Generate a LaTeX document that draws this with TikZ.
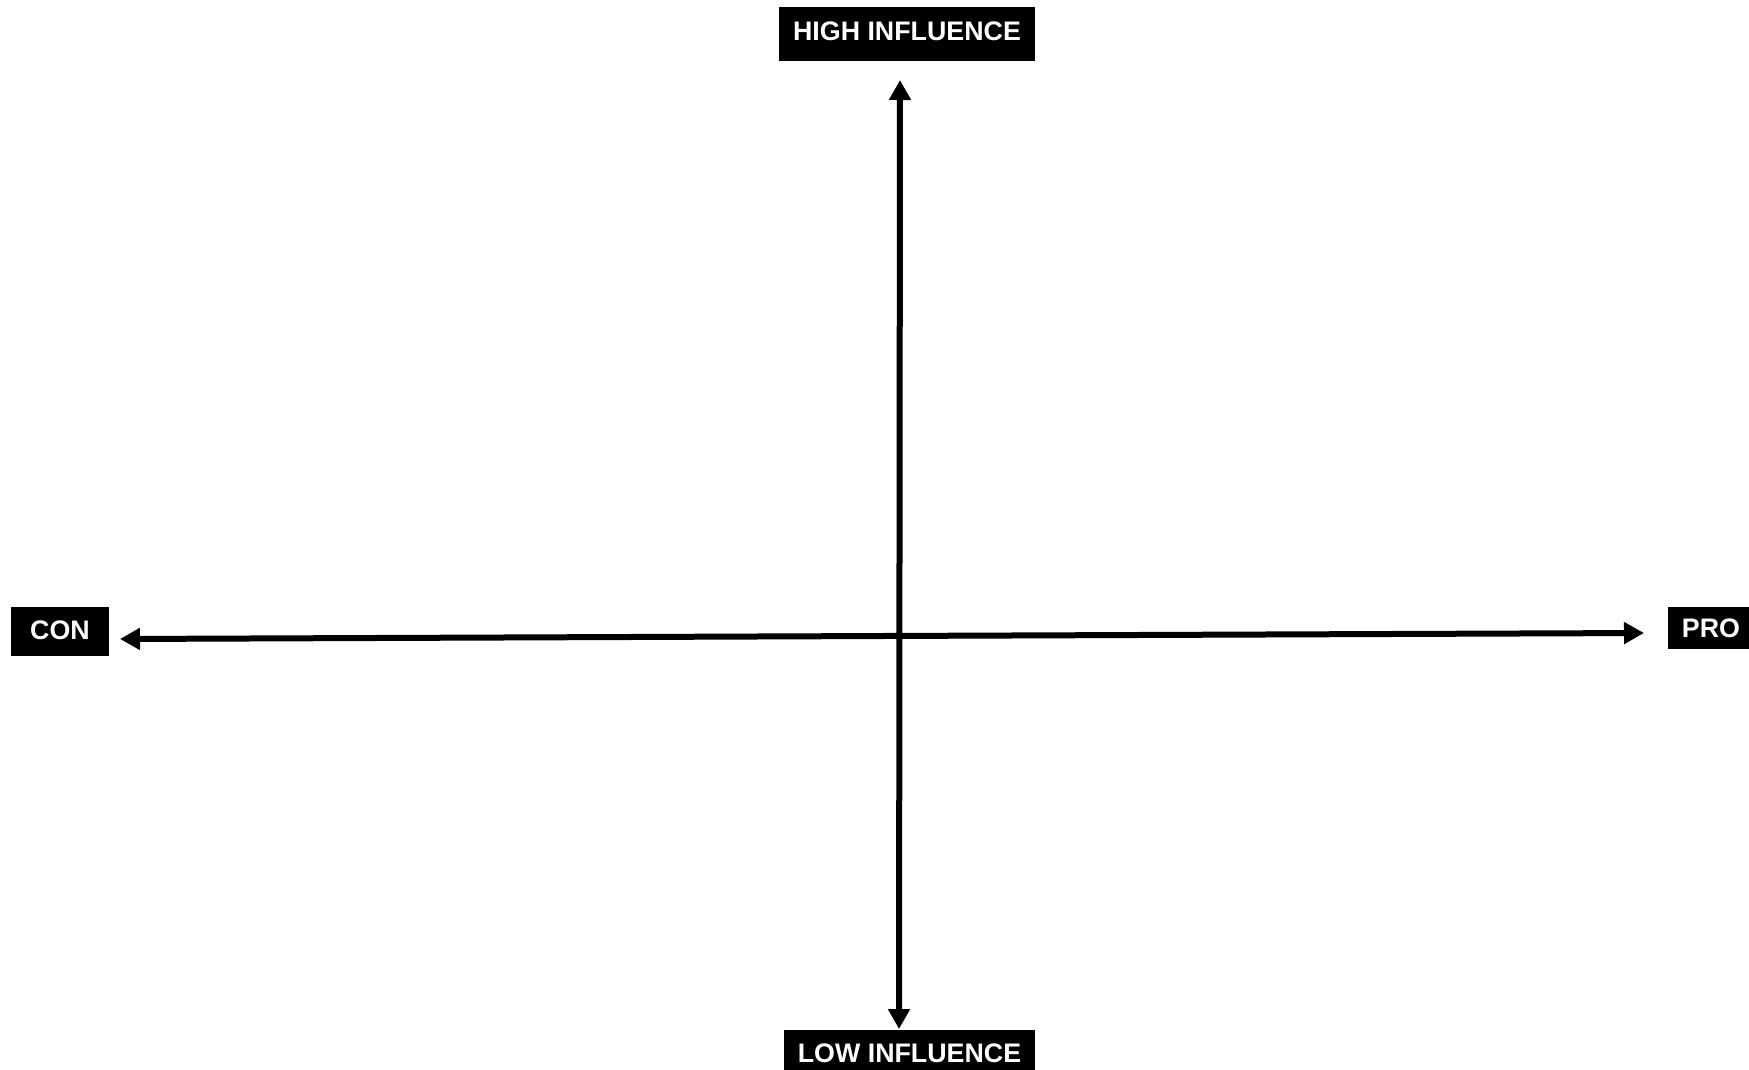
\documentclass[tikz,border=0pt]{standalone}
\usepackage{fontspec}
\setmainfont{Liberation Sans}
\usetikzlibrary{arrows.meta}
\begin{document}
\begin{tikzpicture}[x=1pt,y=-1pt,
  lbl/.style={fill=black, text=white, font=\bfseries\fontsize{26.8}{31}\selectfont,
    inner sep=0pt, text height=19.2pt, text depth=3pt, align=center},
  axis/.style={line width=6pt, line cap=butt,
    {Triangle[length=20pt,width=21pt]}-{Triangle[length=20pt,width=21pt]}}]
\useasboundingbox (0,0) rectangle (1749,1069);
\clip (0,0) rectangle (1749,1069);
\node[lbl, minimum width=256pt, minimum height=54pt, text depth=7pt] (high) at (907,34) {HIGH INFLUENCE};
\node[lbl, minimum width=251pt, minimum height=48pt] (low) at (909.5,1054) {LOW INFLUENCE};
\node[lbl, minimum width=98pt, minimum height=49pt, text depth=3pt] (con) at (60,631.5) {CON};
\node[lbl, minimum width=86pt, minimum height=42pt, text depth=-1pt] (pro) at (1711,628) {PRO};
\coordinate (topTip) at (900,80);
\coordinate (botTip) at (899,1029);
\coordinate (leftTip) at (120,639);
\coordinate (rightTip) at (1644,633);
\draw[axis] (leftTip) -- (rightTip);
\draw[axis] (topTip) -- (botTip);
\end{tikzpicture}
\end{document}
